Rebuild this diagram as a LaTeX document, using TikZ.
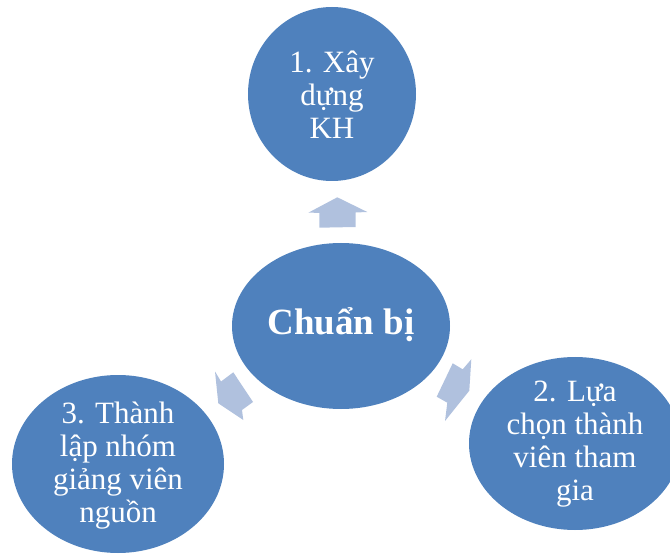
\documentclass[tikz,border=0pt]{standalone}
\usepackage{fontspec}
\setmainfont{Liberation Serif}
\usetikzlibrary{shapes.geometric}
\definecolor{blobblue}{HTML}{4F81BD}
\definecolor{arrowblue}{HTML}{B0C1DE}
\tikzset{
  blob/.style={ellipse, fill=blobblue, draw=none, inner sep=0pt},
  txt/.style={text=white, align=center, inner sep=0pt, font=\fontsize{31}{33}\selectfont},
  ctxt/.style={text=white, align=center, inner sep=0pt, font=\fontsize{37}{40}\selectfont\bfseries},
  blockarrow/.style={fill=arrowblue, draw=none}
}
\begin{document}
\begin{tikzpicture}[x=1pt, y=-1pt]
\useasboundingbox (0,0) rectangle (670,556);
% ellipses
\node[blob, minimum width=218pt, minimum height=166pt] (center) at (341,326) {};
\node[blob, minimum width=168pt, minimum height=174pt] (top) at (332,94) {};
\node[blob, minimum width=212pt, minimum height=173pt] (right) at (575,443.5) {};
\node[blob, minimum width=212pt, minimum height=178pt] (left) at (118,464) {};
% texts
\node[ctxt] (centertxt) at ([yshift=1pt]center.center) {Chuẩn bị};
\node[txt] (toptxt) at ([yshift=-1pt]top.center) {1. Xây\\dựng\\KH};
\node[txt] (righttxt) at ([yshift=-1pt]right.center) {2. Lựa\\chọn thành\\viên tham\\gia};
\node[txt] (lefttxt) at ([yshift=-2pt]left.center) {3. Thành\\lập nhóm\\giảng viên\\nguồn};
% block arrows
\fill[blockarrow] (337.3,197.3) -- (367.3,212) -- (355.7,212.5) -- (355.7,227) -- (319.3,227.7) -- (319.3,212.8) -- (308.3,212.7) -- cycle;
\fill[blockarrow] (452.7,363.3) -- (462.7,369.3) -- (471.3,359.3) -- (469.3,390.7) -- (445,421) -- (447.3,402.7) -- (436.7,396.7) -- cycle;
\fill[blockarrow] (215,371.5) -- (221,381.5) -- (233.3,372.3) -- (253,402) -- (242,410) -- (243.3,420) -- (218.3,403.3) -- cycle;
\end{tikzpicture}
\end{document}
